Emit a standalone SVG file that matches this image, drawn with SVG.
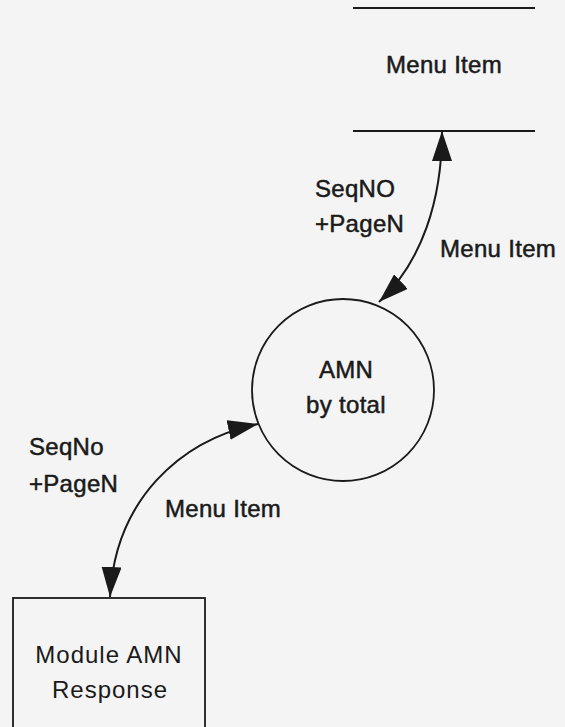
<svg xmlns="http://www.w3.org/2000/svg" width="565" height="727" viewBox="0 0 565 727">
  <defs>
    <style>
      text { font-family: "Liberation Sans", Arial, sans-serif; font-size: 24px; fill: #1a1a1a; stroke: #1a1a1a; stroke-width: 0.5px; letter-spacing: 0.3px; }
      .mid { text-anchor: middle; }
      .light { stroke: none; letter-spacing: 1px; }
      .shape { fill: none; stroke: #1a1a1a; stroke-width: 1.8; }
      .conn { fill: none; stroke: #1a1a1a; stroke-width: 2; }
    </style>
    <marker id="arrow" viewBox="0 0 30 20" refX="30" refY="10" markerWidth="30" markerHeight="20" markerUnits="userSpaceOnUse" orient="auto-start-reverse">
      <path d="M0,0 L30,10 L0,20 Z" fill="#1a1a1a"/>
    </marker>
  </defs>
  <rect x="0" y="0" width="565" height="727" fill="#f4f4f4"/>

  <g id="store-menu-item">
    <line class="shape" x1="353" y1="8" x2="535" y2="8"/>
    <line class="shape" x1="353" y1="131" x2="535" y2="131"/>
    <text class="mid" x="444" y="73">Menu Item</text>
  </g>

  <g id="process-amn">
    <circle class="shape" cx="343" cy="390" r="91"/>
    <text class="mid" x="346" y="378">AMN</text>
    <text class="mid" x="346" y="413">by total</text>
  </g>

  <g id="module-amn-response">
    <rect class="shape" x="13" y="598" width="192" height="140"/>
    <text class="mid light" x="109" y="663">Module AMN</text>
    <text class="mid light" x="110" y="698">Response</text>
  </g>

  <g id="connectors">
    <path class="conn" d="M379,302 C422,262 442,200 442,131" marker-start="url(#arrow)" marker-end="url(#arrow)"/>
    <path class="conn" d="M110,597 C115,500 180,440 258,424" marker-start="url(#arrow)" marker-end="url(#arrow)"/>
    <text x="315" y="197">SeqNO</text>
    <text x="315" y="232">+PageN</text>
    <text x="440" y="257">Menu Item</text>
    <text x="29" y="455">SeqNo</text>
    <text x="29" y="492">+PageN</text>
    <text x="165" y="517">Menu Item</text>
  </g>
</svg>
